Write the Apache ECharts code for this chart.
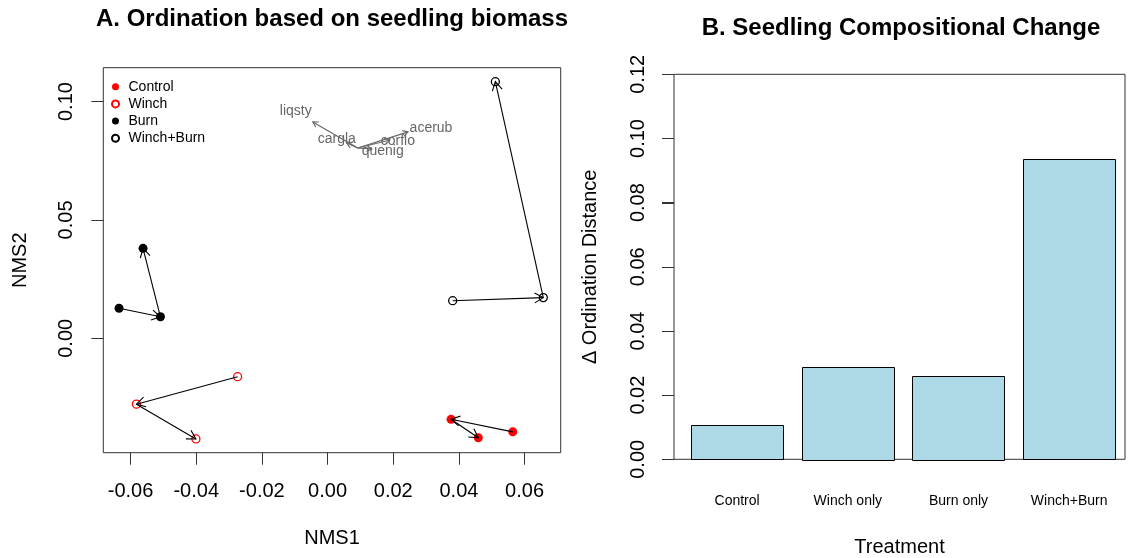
<!DOCTYPE html>
<html>
<head>
<meta charset="utf-8">
<script src="https://cdn.jsdelivr.net/npm/echarts@6/dist/echarts.min.js"></script>
<style>
  html, body { margin: 0; padding: 0; background: #fff; }
  #chart { width: 1133px; height: 558px; }
</style>
</head>
<body>
<div id="chart"></div>
<script>
// ---- Panel A: NMS ordination scores, three sampling times per treatment ----
const treatments = ['Control', 'Winch', 'Burn', 'Winch+Burn'];
const controlNMS1 = [0.0564, 0.0376, 0.0459];
const controlNMS2 = [-0.0395, -0.0342, -0.0420];
const winchNMS1 = [-0.0274, -0.0582, -0.0401];
const winchNMS2 = [-0.0162, -0.0278, -0.0425];
const burnNMS1 = [-0.0635, -0.0509, -0.0562];
const burnNMS2 = [0.0127, 0.0091, 0.0380];
const winchBurnNMS1 = [0.0381, 0.0657, 0.0511];
const winchBurnNMS2 = [0.0159, 0.0172, 0.1084];

// species vectors (drawn from a common origin) and their label positions
const speciesNames = ['liqsty', 'acerub', 'corflo', 'cargla', 'quenig'];
const speciesOrigin = [0.0092, 0.0804];
const speciesTipNMS1 = [-0.0045, 0.0245, 0.0190, 0.0058, 0.0135];
const speciesTipNMS2 = [0.0914, 0.0872, 0.0838, 0.0825, 0.0800];
const speciesLabelNMS1 = [-0.0097, 0.0315, 0.0214, 0.0028, 0.0168];
const speciesLabelNMS2 = [0.0961, 0.0889, 0.0834, 0.0842, 0.0791];

const nmsTicksX = [-0.06, -0.04, -0.02, 0.00, 0.02, 0.04, 0.06];
const nmsTicksY = [0.00, 0.05, 0.10];

// ---- Panel B: change in ordination distance per treatment ----
const barNames = ['Control', 'Winch only', 'Burn only', 'Winch+Burn'];
const barValues = [0.0106, 0.0289, 0.0261, 0.0936];
const barMids = [0.7, 1.9, 3.1, 4.3];   // barplot midpoints (width 1, space 0.2)
const distTicks = [0.00, 0.02, 0.04, 0.06, 0.08, 0.10, 0.12];

const FONT = '"Liberation Sans", Arial, Helvetica, sans-serif';
const TICK_LEN = 12;

function seriesPoints(xs, ys) { return xs.map((x, i) => [x, ys[i]]); }
function segments(xs, ys) {
  const out = [];
  for (let i = 0; i < xs.length - 1; i++) out.push([xs[i], ys[i], xs[i + 1], ys[i + 1]]);
  return out;
}

const trajectorySegments = []
  .concat(segments(controlNMS1, controlNMS2))
  .concat(segments(winchNMS1, winchNMS2))
  .concat(segments(burnNMS1, burnNMS2))
  .concat(segments(winchBurnNMS1, winchBurnNMS2));

const speciesVectors = speciesNames.map((n, i) =>
  [speciesOrigin[0], speciesOrigin[1], speciesTipNMS1[i], speciesTipNMS2[i]]);
const speciesLabels = speciesNames.map((n, i) => [speciesLabelNMS1[i], speciesLabelNMS2[i], n]);

// straight segment with an open "V" head at its end
function arrowShape(api, headLen, color) {
  const a = api.coord([api.value(0), api.value(1)]);
  const b = api.coord([api.value(2), api.value(3)]);
  const ang = Math.atan2(b[1] - a[1], b[0] - a[0]);
  const spread = Math.PI / 6;
  const h1 = [b[0] - headLen * Math.cos(ang - spread), b[1] - headLen * Math.sin(ang - spread)];
  const h2 = [b[0] - headLen * Math.cos(ang + spread), b[1] - headLen * Math.sin(ang + spread)];
  return {
    type: 'group',
    children: [
      { type: 'line', shape: { x1: a[0], y1: a[1], x2: b[0], y2: b[1] },
        style: { stroke: color, lineWidth: 1.1 } },
      { type: 'polyline', shape: { points: [h1, b, h2] },
        style: { stroke: color, fill: 'none', lineWidth: 1.1 } }
    ]
  };
}

function tickStyle(values) {
  return { show: true, length: TICK_LEN, customValues: values, lineStyle: { color: '#333', width: 1 } };
}
function hiddenLine() { return { show: false, onZero: false }; }
function labelBase(values, margin, rotate) {
  return { customValues: values, margin: margin, rotate: rotate || 0,
    color: '#000', fontSize: 20, fontFamily: FONT, lineHeight: 20,
    formatter: v => v.toFixed(2) };
}
function nameStyle() { return { color: '#000', fontSize: 20, fontFamily: FONT, lineHeight: 20 }; }

const option = {
  animation: false,
  backgroundColor: '#fff',
  graphic: [
    { type: 'text', x: 332, y: 19, style: {
        text: 'A. Ordination based on seedling biomass', fill: '#000',
        font: 'bold 24px ' + FONT, textAlign: 'center', textVerticalAlign: 'middle',
        align: 'center', verticalAlign: 'middle' } },
    { type: 'text', x: 901, y: 28, style: {
        text: 'B. Seedling Compositional Change', fill: '#000',
        font: 'bold 24px ' + FONT, textAlign: 'center', textVerticalAlign: 'middle',
        align: 'center', verticalAlign: 'middle' } }
  ],
  legend: {
    orient: 'vertical', left: 111, top: 79.7,
    itemWidth: 16, itemHeight: 7, itemGap: 3.2, symbolKeepAspect: true,
    selectedMode: false,
    textStyle: { color: '#000', fontSize: 14, fontFamily: FONT, lineHeight: 14 },
    padding: 0,
    data: treatments
  },
  grid: [
    { left: 103.3, top: 67.7, width: 457.4, height: 385, show: true, borderColor: '#333', borderWidth: 1,
      outerBoundsMode: 'none' },
    { left: 674, top: 74.3, width: 451, height: 385, show: true, borderColor: '#333', borderWidth: 1,
      outerBoundsMode: 'none' }
  ],
  xAxis: [
    { type: 'value', gridIndex: 0, min: -0.0683, max: 0.0710,
      axisLine: hiddenLine(), splitLine: { show: false },
      axisTick: tickStyle(nmsTicksX),
      axisLabel: labelBase(nmsTicksX, 29),
      name: 'NMS1', nameLocation: 'middle', nameGap: 76, nameTextStyle: nameStyle() },
    { type: 'value', gridIndex: 1, min: 0.016, max: 4.905,
      axisLine: hiddenLine(), splitLine: { show: false }, axisTick: { show: false },
      axisLabel: { customValues: barMids, margin: 35, color: '#000', fontSize: 14,
        fontFamily: FONT, lineHeight: 14,
        formatter: v => barNames[barMids.findIndex(m => Math.abs(m - v) < 1e-6)] || '' },
      name: 'Treatment', nameLocation: 'middle', nameGap: 78, nameTextStyle: nameStyle() }
  ],
  yAxis: [
    { type: 'value', gridIndex: 0, min: -0.0483, max: 0.1143,
      axisLine: hiddenLine(), splitLine: { show: false },
      axisTick: tickStyle(nmsTicksY),
      axisLabel: labelBase(nmsTicksY, 27, 90),
      name: 'NMS2', nameLocation: 'middle', nameGap: 73, nameRotate: 90, nameTextStyle: nameStyle() },
    { type: 'value', gridIndex: 1, min: 0, max: 0.12, interval: 0.02,
      axisLine: hiddenLine(), splitLine: { show: false },
      axisTick: tickStyle(distTicks),
      axisLabel: labelBase(distTicks, 26, 90),
      name: '\u0394 Ordination Distance', nameLocation: 'middle', nameGap: 74, nameRotate: 90,
      nameTextStyle: nameStyle() }
  ],
  series: [
    { type: 'scatter', name: 'Control', xAxisIndex: 0, yAxisIndex: 0, z: 3,
      symbol: 'circle', symbolSize: 9, itemStyle: { color: '#ff0000', opacity: 1 },
      data: seriesPoints(controlNMS1, controlNMS2) },
    { type: 'scatter', name: 'Winch', xAxisIndex: 0, yAxisIndex: 0, z: 3,
      symbol: 'circle', symbolSize: 8,
      itemStyle: { color: '#ffffff', borderColor: '#ff0000', borderWidth: 1.3, opacity: 1 },
      data: seriesPoints(winchNMS1, winchNMS2) },
    { type: 'scatter', name: 'Burn', xAxisIndex: 0, yAxisIndex: 0, z: 3,
      symbol: 'circle', symbolSize: 9, itemStyle: { color: '#000000', opacity: 1 },
      data: seriesPoints(burnNMS1, burnNMS2) },
    { type: 'scatter', name: 'Winch+Burn', xAxisIndex: 0, yAxisIndex: 0, z: 3,
      symbol: 'circle', symbolSize: 8,
      itemStyle: { color: '#ffffff', borderColor: '#000000', borderWidth: 1.3, opacity: 1 },
      data: seriesPoints(winchBurnNMS1, winchBurnNMS2) },
    { type: 'custom', name: 'trajectories', xAxisIndex: 0, yAxisIndex: 0, z: 4,
      encode: { x: [0, 2], y: [1, 3] },
      renderItem: (params, api) => arrowShape(api, 10, '#000'),
      data: trajectorySegments },
    { type: 'custom', name: 'species', xAxisIndex: 0, yAxisIndex: 0, z: 2,
      encode: { x: [0, 2], y: [1, 3] },
      renderItem: (params, api) => arrowShape(api, 6, '#666'),
      data: speciesVectors },
    { type: 'custom', name: 'speciesLabels', xAxisIndex: 0, yAxisIndex: 0, z: 2,
      encode: { x: 0, y: 1 },
      renderItem: (params, api) => {
        const p = api.coord([api.value(0), api.value(1)]);
        return { type: 'text', x: p[0], y: p[1], style: {
          text: speciesLabels[params.dataIndex][2], fill: '#666', font: '14px ' + FONT,
          textAlign: 'center', textVerticalAlign: 'middle', align: 'center', verticalAlign: 'middle' } };
      },
      data: speciesLabels.map(d => [d[0], d[1]]) },
    { type: 'custom', name: 'bars', xAxisIndex: 1, yAxisIndex: 1, z: 2,
      encode: { x: 0, y: 1 },
      renderItem: (params, api) => {
        const m = api.value(0), v = api.value(1);
        const tl = api.coord([m - 0.5, v]);
        const br = api.coord([m + 0.5, 0]);
        return { type: 'rect',
          shape: { x: Math.round(tl[0]) + 0.5, y: Math.round(tl[1]) + 0.5,
                   width: Math.round(br[0] - tl[0]), height: Math.round(br[1] - tl[1]) },
          style: { fill: '#ADD8E6', stroke: '#000', lineWidth: 1 } };
      },
      data: barMids.map((m, i) => [m, barValues[i]]) },
    // outward tick marks on the distance axis, placed by the axis scale
    { type: 'custom', name: 'distTicks', xAxisIndex: 1, yAxisIndex: 1, z: 3, clip: false,
      encode: { x: 0, y: 1 },
      renderItem: (params, api) => {
        const y = Math.round(api.coord([barMids[0], api.value(1)])[1]) + 0.5;
        const x0 = params.coordSys.x;
        return { type: 'line', shape: { x1: x0 - TICK_LEN, y1: y, x2: x0, y2: y },
          style: { stroke: '#333', lineWidth: 1 } };
      },
      data: distTicks.map(v => [barMids[0], v]) }
  ]
};

const chart = echarts.init(document.getElementById('chart'));
chart.setOption(option);
</script>
</body>
</html>
